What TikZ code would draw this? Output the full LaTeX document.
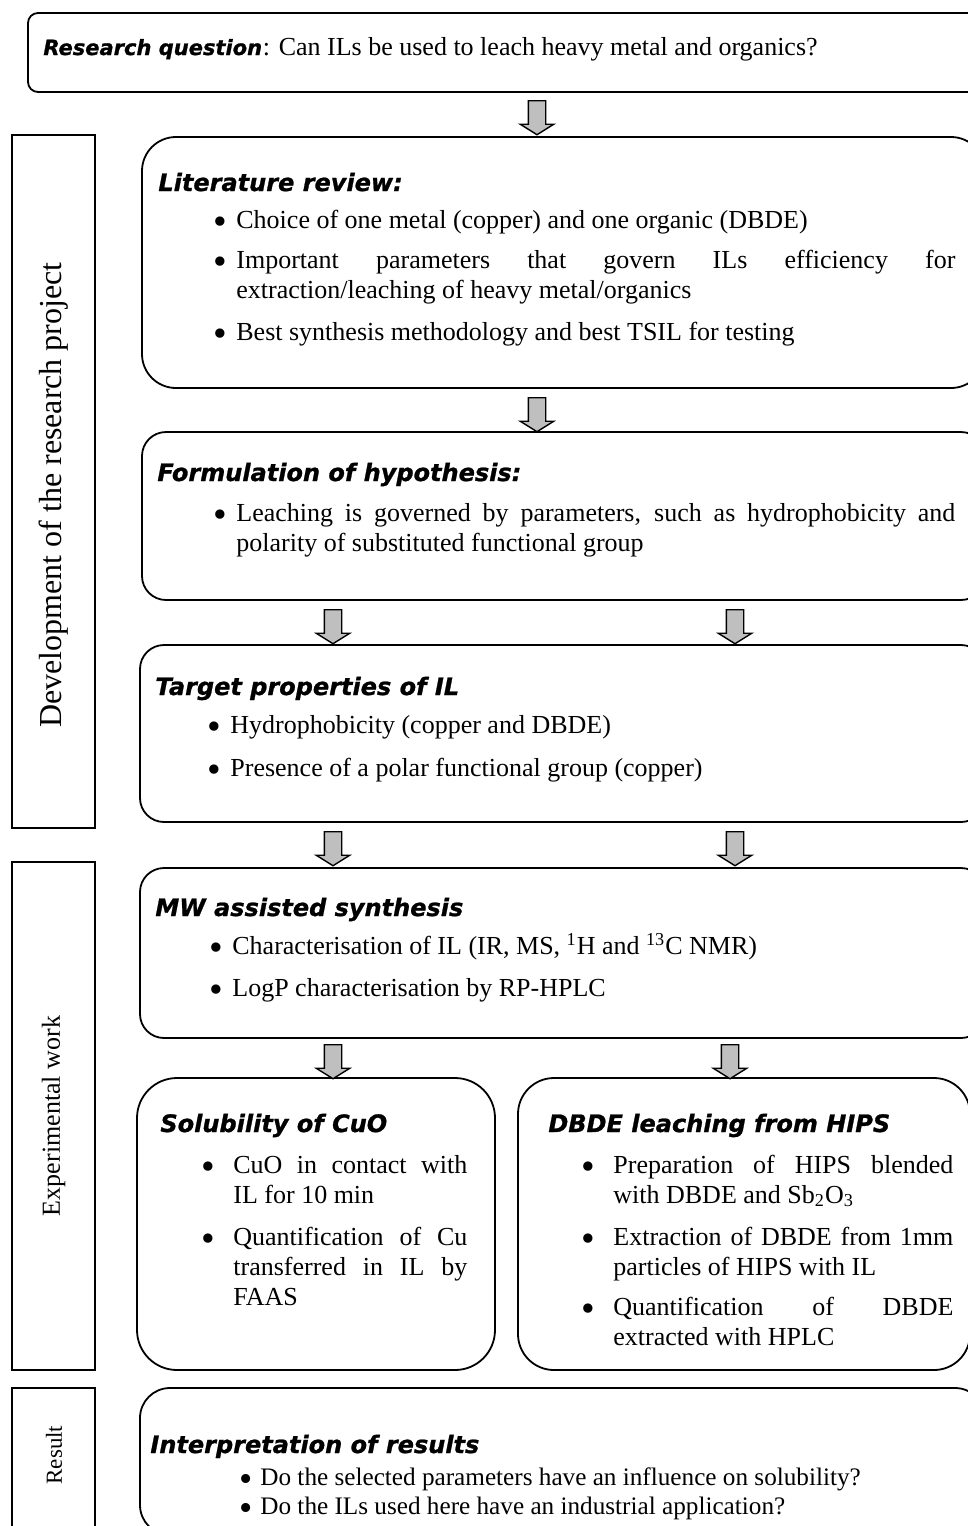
\documentclass[tikz,border=0pt]{standalone}
\usepackage{fontspec}
\usepackage{graphicx}
\setmainfont{Liberation Serif}
\newfontfamily\headfont[FakeBold=1]{DejaVu Sans Bold Oblique}
\usetikzlibrary{shapes.arrows,fit,positioning}

\newcommand{\bodyfont}{\fontsize{13}{15}\selectfont\hyphenpenalty=10000\tolerance=10000}
\newcommand{\bul}[1][4.5pt]{\leavevmode\llap{\raisebox{-0.24em}{\scalebox{1.5}{\textbullet}}\hspace{#1}}\ignorespaces}

\begin{document}
\begin{tikzpicture}[x=0.5pt, y=-0.5pt,
    rbox/.style={draw, line width=0.9pt, inner sep=0pt},
    sidebox/.style={draw, line width=1pt, inner sep=0pt},
    head/.style={anchor=base west, inner sep=0pt, font=\headfont\fontsize{12}{14}\selectfont},
    bitem/.style={anchor=base west, inner sep=0pt, text width=#1, align=justify, font=\bodyfont},
    downarrow/.style={single arrow, draw, line width=0.7pt, fill=gray!50, rotate=-90,
      minimum height=17pt, inner sep=4pt, single arrow head extend=4pt, single arrow tip angle=116},
    sidelabel/.style={rotate=90, inner sep=0pt}]
    \path[use as bounding box] (0,0) rectangle (968,1526);
    \clip (0,0) rectangle (968,1526);

    % Boxes
    \node[rbox, rounded corners=5pt, fit={(28,13) (985,92)}] (rq) {};
    \node[rbox, rounded corners=17pt, fit={(142,137) (985,388)}] (lit) {};
    \node[rbox, rounded corners=12pt, fit={(142,432) (985,600)}] (form) {};
    \node[rbox, rounded corners=12pt, fit={(140,645) (985,822)}] (targ) {};
    \node[rbox, rounded corners=12pt, fit={(140,868) (985,1038)}] (mw) {};
    \node[rbox, rounded corners=20pt, fit={(137,1078) (495,1370)}] (sol) {};
    \node[rbox, rounded corners=18pt, fit={(518,1078) (970,1370)}] (dbde) {};
    \node[rbox, rounded corners=15pt, fit={(140,1388) (985,1535)}] (interp) {};

    % Side boxes
    \node[sidebox, fit={(12,135) (95,828)}] (dev) {};
    \node[sidebox, fit={(12,862) (95,1370)}] (exp) {};
    \node[sidebox, fit={(12,1388) (95,1545)}] (res) {};
    \node[sidelabel, font=\fontsize{16}{19}\selectfont] (devlab) at (54,495) {Development of the research project};
    \node[sidelabel, font=\bodyfont] (explab) at (exp.center) {Experimental work};
    \node[sidelabel, font=\fontsize{11.5}{14}\selectfont] (reslab) at (54,1455) {Result};

    % Block arrows
    \node[downarrow] (ar1) at (537,115) {};
    \node[downarrow] (ar2) at (537,412) {};
    \node[downarrow] (ar3l) at (333,624) {};
    \node[downarrow] (ar3r) at (735,624) {};
    \node[downarrow] (ar4l) at (333,846) {};
    \node[downarrow] (ar4r) at (735,846) {};
    \node[downarrow] (ar5l) at (333,1059) {};
    \node[downarrow] (ar5r) at (730,1059) {};

    % Research question
    \node[head, font={\headfont\fontsize{10.5}{13}\selectfont}] (rqh) at (43,55) {Research question};
    \node[anchor=base west, inner sep=0pt, font=\bodyfont] (rqt) at (rqh.base east) {: Can ILs be used to leach heavy metal and organics?};

    % Literature review
    \node[head] (lith) at (158,191) {Literature review:};
    \node[bitem=359.5pt] (lit1) at (236,228) {\bul Choice of one metal (copper) and one organic (DBDE)};
    \node[bitem=359.5pt] (lit2) at (236,268) {\bul Important parameters that govern ILs efficiency for\linebreak extraction/leaching of heavy metal/organics};
    \node[bitem=359.5pt] (lit3) at (236,340) {\bul Best synthesis methodology and best TSIL for testing};

    % Hypothesis
    \node[head] (formh) at (157,481) {Formulation of hypothesis:};
    \node[bitem=359.5pt] (form1) at (236,521) {\bul Leaching is governed by parameters, such as hydrophobicity and\linebreak polarity of substituted functional group};

    % Target properties
    \node[head] (targh) at (155,695) {Target properties of IL};
    \node[bitem=360pt] (targ1) at (230,733) {\bul Hydrophobicity (copper and DBDE)};
    \node[bitem=360pt] (targ2) at (230,776) {\bul Presence of a polar functional group (copper)};

    % Synthesis
    \node[head] (mwh) at (155,916) {MW assisted synthesis};
    \node[bitem=360pt] (mw1) at (232,954) {\bul Characterisation of IL (IR, MS, \textsuperscript{1}H and \textsuperscript{13}C NMR)};
    \node[bitem=360pt] (mw2) at (232,996) {\bul LogP characterisation by RP-HPLC};

    % Solubility
    \node[head] (solh) at (160,1132) {Solubility of CuO};
    \node[bitem=117pt] (sol1) at (233,1173) {\bul[9pt] CuO in contact with\linebreak IL for 10 min};
    \node[bitem=117pt] (sol2) at (233,1245) {\bul[9pt] Quantification of Cu\linebreak transferred in IL by\linebreak FAAS};

    % DBDE leaching
    \node[head] (dbdeh) at (548,1132) {DBDE leaching from HIPS};
    \node[bitem=170pt] (dbde1) at (613,1173) {\bul[9pt] Preparation of HIPS blended\linebreak with DBDE and Sb\textsubscript{2}O\textsubscript{3}};
    \node[bitem=170pt] (dbde2) at (613,1245) {\bul[9pt] Extraction of DBDE from 1mm\linebreak particles of HIPS with IL};
    \node[bitem=170pt] (dbde3) at (613,1315) {\bul[9pt] Quantification of DBDE\linebreak extracted with HPLC};

    % Interpretation
    \node[head] (interph) at (150,1453) {Interpretation of results};
    \node[bitem=340pt, font=\fontsize{12.6}{14}\selectfont] (interp1) at (260,1485) {\bul[4pt] Do the selected parameters have an influence on solubility?};
    \node[bitem=340pt, font=\fontsize{12.6}{14}\selectfont] (interp2) at (260,1514) {\bul[4pt] Do the ILs used here have an industrial application?};
\end{tikzpicture}
\end{document}
